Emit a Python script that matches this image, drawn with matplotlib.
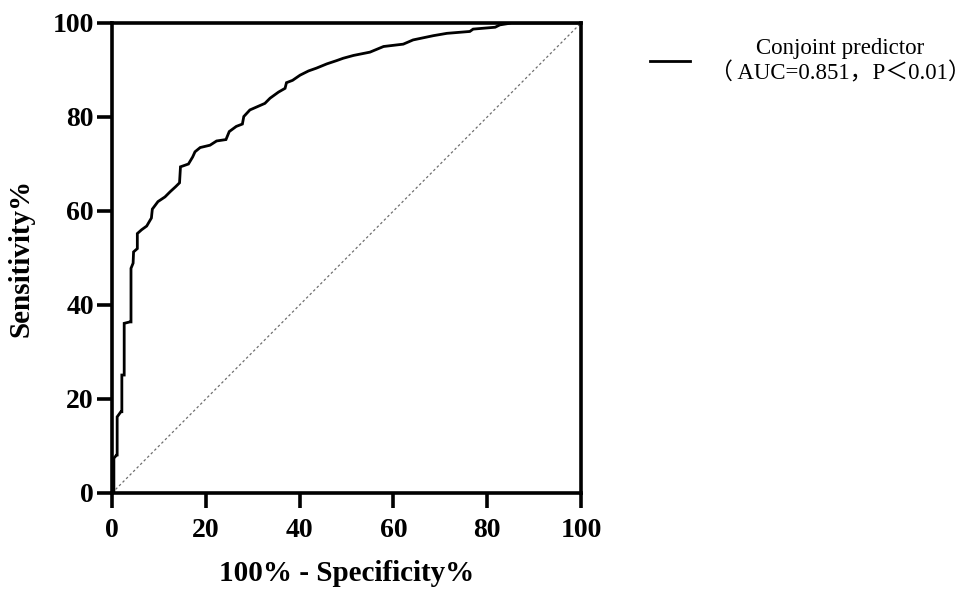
import matplotlib
matplotlib.use("Agg")
import matplotlib.pyplot as plt

# ROC curve vertices (100% - Specificity%, Sensitivity%)
fpr = [0, 0.4, 0.4, 1.0, 1.1, 1.1, 1.9, 2.1, 2.1, 2.6, 2.6, 3.8, 4.05, 4.05, 4.5, 4.6,
       5.4, 5.4, 6.3, 7.4, 8.1, 8.4, 8.6, 9.8, 11.3, 12.4, 13.6, 14.4, 14.6, 16.3, 17.2,
       17.7, 18.8, 20.9, 22.3, 24.3, 25.0, 26.5, 27.8, 28.1, 29.4, 31.0, 32.6, 33.7, 35.5,
       36.9, 37.2, 38.5, 40.1, 41.9, 43.6, 45.8, 47.9, 49.3, 51.5, 55.0, 57.9, 62.1, 64.2,
       68.5, 71.4, 76.3, 77.0, 81.7, 82.7, 85.2, 100]
tpr = [0, 0, 7.4, 8.1, 8.1, 16.2, 17.3, 17.3, 25.1, 25.1, 36.1, 36.4, 36.4, 47.8, 48.9, 51.3,
       52.0, 55.2, 56.0, 56.8, 58.0, 58.5, 60.4, 62.0, 63.0, 64.1, 65.2, 66.0, 69.4, 70.0, 71.5,
       72.6, 73.5, 74.0, 74.9, 75.2, 76.9, 78.0, 78.5, 80.1, 81.5, 82.2, 82.9, 84.0, 85.3,
       86.1, 87.3, 87.8, 88.9, 89.8, 90.4, 91.3, 92.0, 92.5, 93.1, 93.8, 95.0, 95.5, 96.4,
       97.3, 97.8, 98.2, 98.7, 99.1, 99.6, 100, 100]
ref_line = [0, 100]
ticks = [0, 20, 40, 60, 80, 100]
series_label = "Conjoint predictor\n（ AUC=0.851，P＜0.01）"

serif = ["Liberation Serif", "DejaVu Serif"]

fig = plt.figure(figsize=(9.69, 5.91), dpi=100)
ax = fig.add_axes([112/969, 98/591, 469/969, 470/591])

line, = ax.plot(fpr, tpr, color="black", lw=2.0, solid_joinstyle="miter")
ax.plot(ref_line, ref_line, color="#6e6e6e", lw=0.9, linestyle=(0, (2, 2)))

ax.set_xlim(0, 100)
ax.set_ylim(0, 100)
ax.set_xticks(ticks)
ax.set_yticks(ticks)
for s in ax.spines.values():
    s.set_linewidth(2.6)
ax.tick_params(direction="out", length=11, width=2.6)
ax.tick_params(axis="x", pad=7)
ax.tick_params(axis="y", pad=2)
for lbl in ax.get_xticklabels() + ax.get_yticklabels():
    lbl.set_fontfamily(serif)
    lbl.set_fontweight("bold")
    lbl.set_fontsize(20)

ax.set_xlabel("100% - Specificity%", fontfamily=serif, fontweight="bold", fontsize=21, labelpad=12)
ax.set_ylabel("Sensitivity%", fontfamily=serif, fontweight="bold", fontsize=21, labelpad=13)

leg = fig.legend([line], [series_label], loc="center left",
                 bbox_to_anchor=(650/969, 1 - 61/591), frameon=False,
                 borderpad=0, borderaxespad=0,
                 handlelength=1.75, handletextpad=0.85,
                 prop={"family": ["Liberation Serif", "Noto Sans CJK SC"], "size": 16.5})
for t in leg.get_texts():
    t.set_multialignment("center")
for h in leg.legend_handles:
    h.set_linewidth(2.0)

fig.savefig("out.png", dpi=100)
